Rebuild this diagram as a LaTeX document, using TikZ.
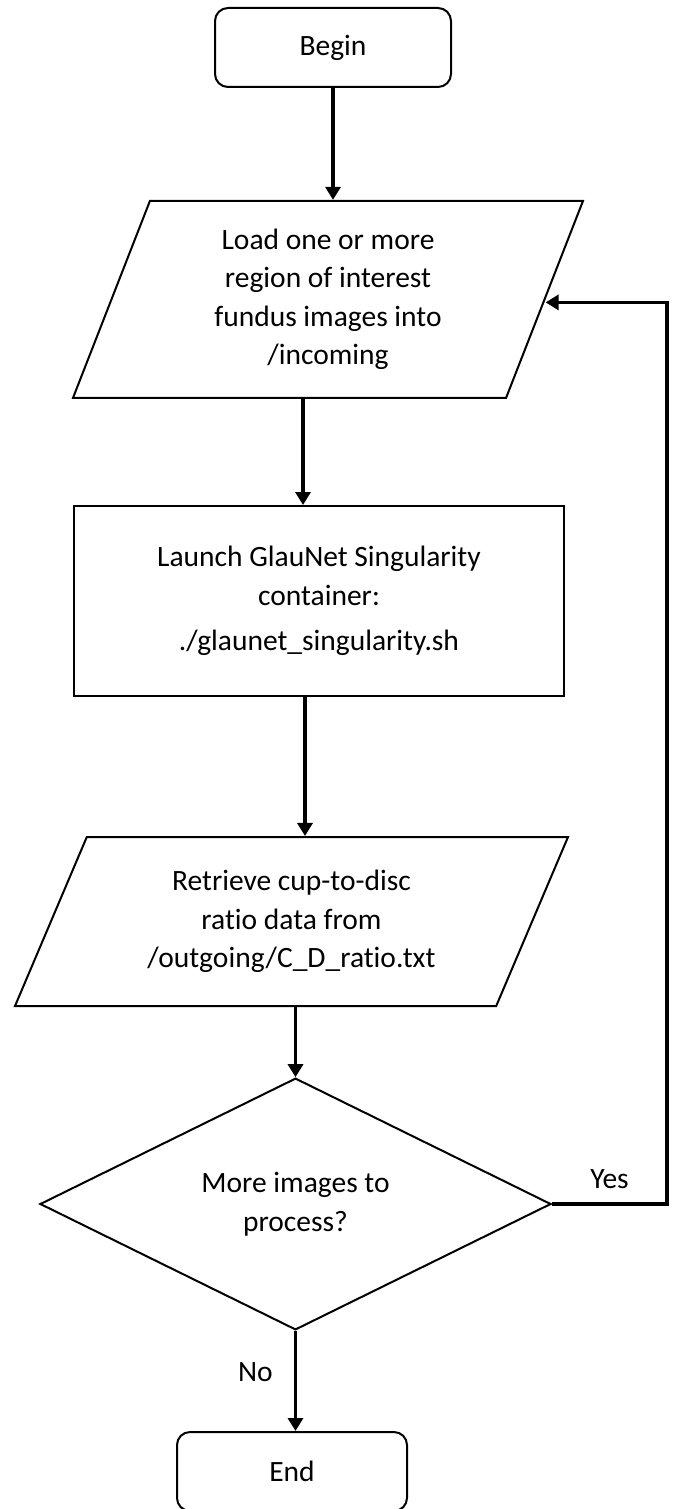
\documentclass[tikz,border=0pt]{standalone}
\usepackage{fontspec}
\setmainfont{Carlito}[Ligatures=NoCommon]
\usetikzlibrary{shapes.geometric,arrows.meta}

\begin{document}
\begin{tikzpicture}[x=1pt,y=-1pt,
  every node/.style={font=\fontsize{29.5pt}{38.5pt}\selectfont, align=center},
  shapeline/.style={draw=black, line width=2pt, fill=white},
  terminal/.style={shapeline, rectangle, rounded corners=13pt, minimum width=236pt, minimum height=79pt},
  process/.style={shapeline, rectangle, minimum width=490pt, minimum height=190pt},
  io/.style={shapeline, trapezium, trapezium stretches body, inner sep=4pt},
  decision/.style={shapeline, diamond, inner sep=0pt, minimum width=511pt, minimum height=214pt},
  arr/.style={draw=black, line width=3.5pt, -{Triangle[width=15pt,length=13pt]}},
  lbl/.style={inner sep=0pt}
]
\useasboundingbox (0,0) rectangle (673,1509);

% flowchart steps
\node[terminal] (begin) at (333,47.5) {Begin};

\node[io, trapezium left angle=62.7, trapezium right angle=117.3,
      minimum width=510pt, minimum height=197pt] (load) at (328,299.4)
  {Load one or more\\region of interest\\fundus images into\\/incoming};

\node[process] (launch) at (319,601)
  {Launch GlauNet Singularity\\container:\\[7pt]./glaunet\_singularity.sh};

\node[io, trapezium left angle=57, trapezium right angle=123,
      minimum width=553pt, minimum height=169pt] (retrieve) at (291.5,921.5)
  {Retrieve cup-to-disc\\ratio data from\\/outgoing/C\_D\_ratio.txt};

\node[decision] (more) at (295.5,1204) {More images to\\process?};

\node[terminal, minimum width=230pt] (end) at (292,1471.5) {End};

% connectors
\draw[arr] (begin.south) -- (begin.south |- load.north);
\draw[arr] ([xshift=-25pt]load.south) -- ([xshift=-25pt]load.south |- launch.north);
\draw[arr] ([xshift=-14pt]launch.south) -- ([xshift=-14pt]launch.south |- retrieve.north);
\draw[arr] (more.north |- retrieve.south) -- (more.north);
\draw[arr] (more.south) -- node[lbl, pos=0.41, left=21pt] {No} (more.south |- end.north);
\draw[arr] (more.east) -- node[lbl, above=14pt] {Yes} ++(115,0) |- ([yshift=-3pt]load.east);
\end{tikzpicture}
\end{document}
